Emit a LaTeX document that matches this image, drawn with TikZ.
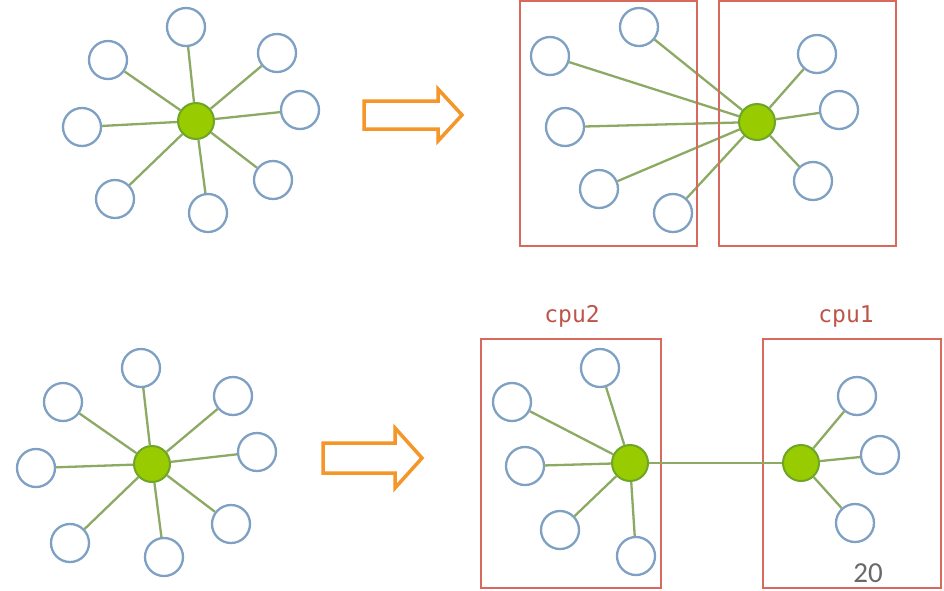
\documentclass[tikz,border=0pt]{standalone}
\usepackage{fontspec}
\newfontfamily\cpufont{DejaVu Sans Mono}
\newfontfamily\numfont{Carlito}
\definecolor{leafblue}{RGB}{125,160,195}
\definecolor{edgegreen}{RGB}{140,170,100}
\definecolor{hubgreen}{RGB}{153,204,0}
\definecolor{hubborder}{RGB}{110,165,40}
\definecolor{boxred}{RGB}{215,105,95}
\definecolor{arroworange}{RGB}{245,150,40}
\definecolor{labelred}{RGB}{190,85,75}
\definecolor{numgray}{RGB}{105,105,105}
\begin{document}
\begin{tikzpicture}[x=1pt,y=-1pt,
 leaf/.style={circle,draw=leafblue,line width=2.3pt,fill=white,minimum size=38pt,inner sep=0pt},
 hub/.style={circle,draw=hubborder,fill=hubgreen,line width=2pt,minimum size=36pt,inner sep=0pt},
 edge/.style={draw=edgegreen,line width=2.3pt},
 part/.style={draw=boxred,line width=2.3pt},
 bigarrow/.style={draw=arroworange,line width=3.5pt,fill=white,line join=miter},
 cpulabel/.style={text=labelred,font=\cpufont\fontsize{23}{27}\selectfont},
 pagenum/.style={text=numgray,font=\numfont\fontsize{29}{33}\selectfont,inner sep=0pt,anchor=south},
]
\useasboundingbox[fill=white] (0,0) rectangle (944,590);

% ---------- top-left star ----------
\node[hub] (A) at (196,121) {};
\foreach \n/\x/\y in {a1/186/27, a2/108/60, a3/277/53, a4/300/110, a5/82/127, a6/115/199, a7/208/213, a8/273/180}{
  \node[leaf] (\n) at (\x,\y) {};
  \draw[edge] (A) -- (\n);
}

% ---------- bottom-left star ----------
\node[hub] (B) at (152,464) {};
\foreach \n/\x/\y in {b1/141/368, b2/63/402, b3/233/396, b4/257/452, b5/36/468, b6/70/543, b7/164/557, b8/231/524}{
  \node[leaf] (\n) at (\x,\y) {};
  \draw[edge] (B) -- (\n);
}

% ---------- arrows ----------
\draw[bigarrow] (364,101) -- (438,101) -- (438,89) -- (462,115) -- (438,141) -- (438,129) -- (364,129) -- cycle;
\draw[bigarrow] (323,443) -- (395,443) -- (395,428) -- (422,458) -- (395,488) -- (395,473) -- (323,473) -- cycle;

% ---------- top-right: split partitions ----------
\node[hub] (C) at (757,122) {};
\foreach \n/\x/\y in {c1/639/27, c2/550/56, c3/565/127, c4/599/189, c5/673/213, c6/817/54, c7/839/110, c8/813/181}{
  \node[leaf] (\n) at (\x,\y) {};
  \draw[edge] (C) -- (\n);
}
\draw[part] (520,1) rectangle (697,246);
\draw[part] (719,1) rectangle (896,246);

% ---------- bottom-right: cpu2 / cpu1 ----------
\draw[part] (481,339) rectangle (661,588);
\draw[part] (763,339) rectangle (941,588);
\node[cpulabel] (l2) at (572,316) {cpu2};
\node[cpulabel] (l1) at (846,316) {cpu1};

\node[hub] (D) at (630,463) {};
\foreach \n/\x/\y in {d1/600/368, d2/512/402, d3/525/466, d4/560/530, d5/636/556}{
  \node[leaf] (\n) at (\x,\y) {};
  \draw[edge] (D) -- (\n);
}
\node[hub] (E) at (801,463) {};
\foreach \n/\x/\y in {e1/857/396, e2/880/455, e3/855/523}{
  \node[leaf] (\n) at (\x,\y) {};
  \draw[edge] (E) -- (\n);
}
\draw[edge] (D) -- (E);

\node[pagenum] (pg) at (868,583) {20};
\end{tikzpicture}
\end{document}
